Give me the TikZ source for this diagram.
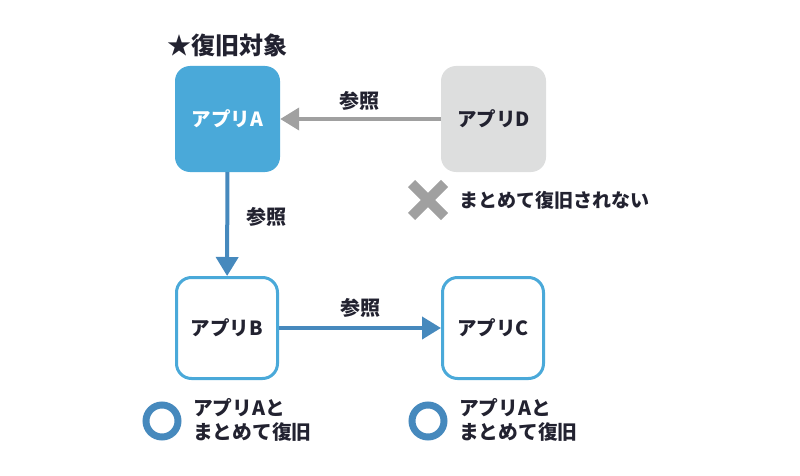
\documentclass[tikz,border=0pt]{standalone}
\usepackage{fontspec}
\setmainfont{Noto Sans CJK JP}
\usetikzlibrary{arrows.meta}
\definecolor{boxblue}{RGB}{74,169,217}
\definecolor{steel}{RGB}{70,137,189}
\definecolor{arrgray}{RGB}{160,160,160}
\definecolor{dgray}{RGB}{221,222,222}
\definecolor{ink}{RGB}{34,34,48}
\begin{document}
\begin{tikzpicture}[x=1pt,y=-1pt,
  app/.style={rounded corners=15pt, inner sep=0pt, font=\fontsize{19.5}{22}\selectfont\bfseries},
  fillbox/.style={app, minimum width=105pt, minimum height=106pt},
  linebox/.style={app, draw=boxblue, line width=3pt, fill=white, minimum width=101pt, minimum height=101pt, text=ink},
  lbl/.style={font=\fontsize{20}{22}\selectfont\bfseries, text=ink, inner sep=0pt},
  note/.style={font=\fontsize{19.7}{24}\selectfont\bfseries, text=ink, inner sep=0pt, align=left},
  ring/.style={circle, draw=steel, line width=7pt, minimum size=32pt, inner sep=0pt},
  conn/.style={line width=4pt, -{Triangle[length=19pt,width=22pt]}}
]
\useasboundingbox (0,0) rectangle (800,476);
\node[fillbox, fill=boxblue, text=white] (A) at (227.5,119) {アプリA};
\node[fillbox, fill=dgray, text=ink] (D) at (493.5,119) {アプリD};
\node[linebox] (B) at (227,328) {アプリB};
\node[linebox] (C) at (493,328) {アプリC};
\node[font=\fontsize{24}{28}\selectfont\bfseries, text=ink, inner sep=0pt, anchor=west] (title) at (167,45) {★復旧対象};
\draw[conn, draw=arrgray, fill=arrgray] (D) -- (A);
\draw[conn, draw=steel, fill=steel] (A) -- (B);
\draw[conn, draw=steel, fill=steel] (B) -- (C);
\node[lbl] (l1) at (359,101) {参照};
\node[lbl] (l2) at (266,217) {参照};
\node[lbl] (l3) at (360,308) {参照};
\coordinate (xc) at (428,200);
\draw[arrgray, line width=10pt] ([shift={(-16.5,-16.5)}]xc) -- ([shift={(16.5,16.5)}]xc);
\draw[arrgray, line width=10pt] ([shift={(-16.5,16.5)}]xc) -- ([shift={(16.5,-16.5)}]xc);
\node[note, anchor=west, font=\fontsize{19}{24}\selectfont\bfseries] (nx) at (459,200) {まとめて復旧されない};
\node[ring] (o1) at (162,421) {};
\node[ring] (o2) at (428,421) {};
\node[note, anchor=west] (n1) at (193,420) {アプリAと\\まとめて復旧};
\node[note, anchor=west] (n2) at (459,420) {アプリAと\\まとめて復旧};
\end{tikzpicture}
\end{document}
